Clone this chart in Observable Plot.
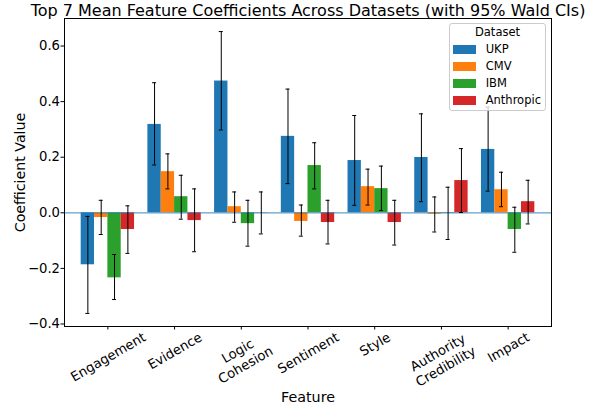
<!DOCTYPE html>
<html>
<head>
<meta charset="utf-8">
<script src="https://cdn.jsdelivr.net/npm/d3@7"></script>
<script src="https://cdn.jsdelivr.net/npm/@observablehq/plot@0.6"></script>
<style>
  body { margin: 0; background: white; }
  #wrap { position: relative; width: 600px; height: 407px; font-family: "DejaVu Sans", sans-serif; }
  #legend {
    position: absolute; left: 449px; top: 23px; width: 95px;
    border: 1px solid #cccccc; border-radius: 3px; background: rgba(255,255,255,0.8);
    font-size: 11.5px; color: #000; padding-bottom: 1px;
  }
  #legend .title { text-align: center; line-height: 17px; height: 17px; }
  #legend .row { display: flex; align-items: center; height: 17px; }
  #legend .sw { width: 23.3px; height: 8.5px; margin-left: 3px; margin-right: 9.4px; }
  #legend .lb { line-height: 17px; }
</style>
</head>
<body>
<div id="wrap"></div>
<script>
// ---- data ----
const features = ["Engagement", "Evidence", "Logic\nCohesion", "Sentiment", "Style", "Authority\nCredibility", "Impact"];
const datasets = ["UKP", "CMV", "IBM", "Anthropic"];
const colors = ["#1f77b4", "#ff7f0e", "#2ca02c", "#d62728"];

const ukp      = [-0.187, 0.318, 0.474, 0.275, 0.188, 0.199, 0.228];
const ukpLo    = [-0.362, 0.172, 0.298, 0.105, 0.027, 0.040, 0.078];
const ukpHi    = [-0.013, 0.468, 0.652, 0.445, 0.350, 0.356, 0.380];

const cmv      = [-0.017, 0.148, 0.022, -0.031, 0.094, -0.005, 0.083];
const cmvLo    = [-0.078, 0.086, -0.034, -0.084, 0.028, -0.069, 0.022];
const cmvHi    = [0.045, 0.212, 0.075, 0.028, 0.157, 0.057, 0.146];

const ibm      = [-0.234, 0.058, -0.039, 0.170, 0.087, -0.002, -0.060];
const ibmLo    = [-0.312, -0.023, -0.120, 0.086, 0.008, -0.096, -0.142];
const ibmHi    = [-0.150, 0.135, 0.045, 0.252, 0.168, 0.092, 0.020];

const anth     = [-0.060, -0.028, -0.001, -0.035, -0.035, 0.116, 0.040];
const anthLo   = [-0.146, -0.140, -0.076, -0.112, -0.116, 0.001, -0.040];
const anthHi   = [0.025, 0.086, 0.075, 0.045, 0.045, 0.231, 0.117];

const yTicks = [-0.4, -0.2, 0.0, 0.2, 0.4, 0.6];
const title = "Top 7 Mean Feature Coefficients Across Datasets (with 95% Wald CIs)";
const xLabel = "Feature";
const yLabel = "Coefficient Value";

// ---- build table ----
const series = [
  [ukp, ukpLo, ukpHi],
  [cmv, cmvLo, cmvHi],
  [ibm, ibmLo, ibmHi],
  [anth, anthLo, anthHi]
];
const barW = 0.2;
const rows = [];
series.forEach(([v, lo, hi], k) => {
  features.forEach((f, i) => {
    const x1 = i - 0.4 + k * barW;
    rows.push({feature: f, dataset: datasets[k], x1, x2: x1 + barW, xc: x1 + barW / 2, value: v[i], lo: lo[i], hi: hi[i]});
  });
});
const capHalf = 0.03;

// ---- tick label placement (matplotlib-style rotated, centered) ----
const tickFs = 13.2;
const ctx = document.createElement("canvas").getContext("2d");
ctx.font = `${tickFs}px "DejaVu Sans"`;
const s30 = Math.sin(Math.PI / 6), c30 = Math.cos(Math.PI / 6);
const tickLabelMarks = features.map((f, i) => {
  const lines = f.split("\n");
  const W = Math.max(...lines.map(l => ctx.measureText(l).width));
  const H = (lines.length - 1) * 1.2 * tickFs + 1.16 * tickFs;
  const bboxH = W * s30 + H * c30;
  return Plot.text([{i, f}], {
    x: "i", text: "f", frameAnchor: "bottom", dy: 2.3 + bboxH / 2,
    rotate: -30, textAnchor: "middle", lineAnchor: "middle", lineHeight: 1.2,
    fontSize: tickFs, fill: "black"
  });
});

const chart = Plot.plot({
  width: 600,
  height: 407,
  marginLeft: 64,
  marginRight: 49,
  marginTop: 18,
  marginBottom: 81,
  style: {fontFamily: "DejaVu Sans", fontSize: "13.2px", background: "white", color: "black", overflow: "visible"},
  x: {type: "linear", domain: [-0.65, 6.65], axis: null},
  y: {domain: [-0.409, 0.699], axis: null},
  marks: [
    Plot.rectY(rows, {x1: "x1", x2: "x2", y1: 0, y2: "value", fill: d => colors[datasets.indexOf(d.dataset)]}),
    Plot.ruleY([0], {stroke: "#1f77b4", strokeOpacity: 0.7, strokeWidth: 1.3}),
    Plot.ruleX(rows, {x: "xc", y1: "lo", y2: "hi", stroke: "black", strokeWidth: 1}),
    Plot.ruleY(rows, {y: "lo", x1: d => d.xc - capHalf, x2: d => d.xc + capHalf, stroke: "black", strokeWidth: 1}),
    Plot.ruleY(rows, {y: "hi", x1: d => d.xc - capHalf, x2: d => d.xc + capHalf, stroke: "black", strokeWidth: 1}),
    Plot.axisY({ticks: yTicks, tickFormat: d3.format(".1f"), tickSize: 3.5, tickPadding: 1, fontSize: tickFs, label: null}),
    Plot.axisX({ticks: d3.range(features.length), tickFormat: () => "", tickSize: 3.5, label: null}),
    ...tickLabelMarks,
    Plot.frame({stroke: "black", strokeWidth: 1}),
    Plot.text([title], {frameAnchor: "top", dy: -3, lineAnchor: "bottom", fontSize: 16, fill: "black"}),
    Plot.text([xLabel], {frameAnchor: "bottom", dy: 75.5, lineAnchor: "bottom", fontSize: 14.3, fill: "black"}),
    Plot.text([yLabel], {frameAnchor: "left", dx: -40, rotate: -90, lineAnchor: "bottom", textAnchor: "middle", fontSize: 14.2, fill: "black"})
  ]
});

const wrap = document.getElementById("wrap");
wrap.appendChild(chart);

// ---- legend ----
const legend = document.createElement("div");
legend.id = "legend";
const lt = document.createElement("div");
lt.className = "title";
lt.textContent = "Dataset";
legend.appendChild(lt);
datasets.forEach((name, k) => {
  const row = document.createElement("div");
  row.className = "row";
  const sw = document.createElement("span");
  sw.className = "sw";
  sw.style.background = colors[k];
  const lb = document.createElement("span");
  lb.className = "lb";
  lb.textContent = name;
  row.appendChild(sw);
  row.appendChild(lb);
  legend.appendChild(row);
});
wrap.appendChild(legend);
</script>
</body>
</html>
